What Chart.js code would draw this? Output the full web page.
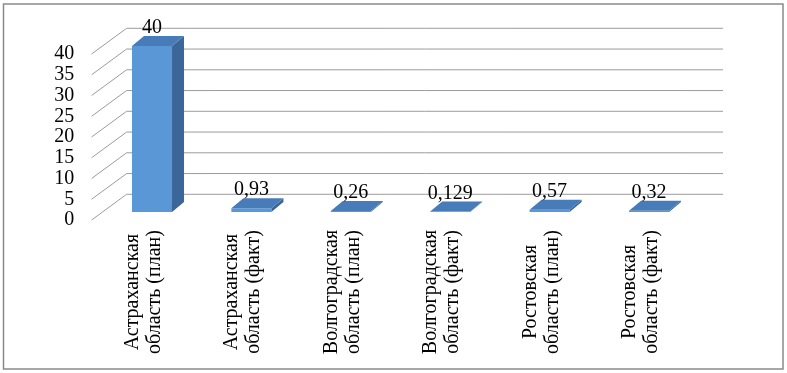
<!DOCTYPE html>
<html>
<head>
<meta charset="utf-8">
<script src="https://cdn.jsdelivr.net/npm/chart.js@4"></script>
<style>
html,body{margin:0;padding:0;background:#fff;}
canvas{display:block;}
</style>
</head>
<body>
<canvas id="c" width="787" height="373"></canvas>
<script>
// ---- data ----
const categoryLine1 = ['Астраханская','Астраханская','Волгоградская','Волгоградская','Ростовская','Ростовская'];
const categoryLine2 = ['область (план)','область (факт)','область (план)','область (факт)','область (план)','область (факт)'];
const values = [40, 0.93, 0.26, 0.129, 0.57, 0.32];
const yMin = 0, yMax = 40, yStep = 5;

const FONT = '"Liberation Serif", "Times New Roman", serif';
const DX = 12, DY = -10;            // bar depth
const BACK_DX = 24.3, BACK_DY = -17.7; // back wall offset from bar plane
const FRONT_DX = -10.7, FRONT_DY = 8;  // front axis plane offset from bar plane

const fmt = v => String(v).replace('.', ',');

const deco = {
  id: 'deco',
  beforeDraw(chart) {
    const ctx = chart.ctx;
    ctx.save();
    ctx.fillStyle = '#fff';
    ctx.fillRect(0, 0, chart.width, chart.height);
    ctx.strokeStyle = '#8a8a8a';
    ctx.lineWidth = 1.5;
    ctx.strokeRect(3.5, 4, 779.5, 365);
    ctx.restore();
  },
  beforeDatasetsDraw(chart) {
    const ctx = chart.ctx, ys = chart.scales.y, xs = chart.scales.x;
    ctx.save();
    ctx.strokeStyle = '#9c9c9c';
    ctx.lineWidth = 1;
    ys.ticks.forEach(t => {
      const py = ys.getPixelForValue(t.value);
      ctx.beginPath();
      ctx.moveTo(xs.left + FRONT_DX, py + FRONT_DY);
      ctx.lineTo(xs.left + BACK_DX, py + BACK_DY);
      ctx.lineTo(xs.right + BACK_DX, py + BACK_DY);
      ctx.stroke();
    });
    ctx.restore();
  },
  afterDatasetsDraw(chart) {
    const ctx = chart.ctx;
    const meta = chart.getDatasetMeta(0);
    ctx.save();
    meta.data.forEach((bar, i) => {
      const p = bar.getProps(['x','y','base','width'], true);
      const l = p.x - p.width / 2, r = p.x + p.width / 2;
      const top = Math.min(p.y, p.base), bot = Math.max(p.y, p.base);
      // side face
      ctx.fillStyle = '#3a6699';
      ctx.beginPath();
      ctx.moveTo(r, top); ctx.lineTo(r + DX, top + DY);
      ctx.lineTo(r + DX, bot + DY); ctx.lineTo(r, bot); ctx.closePath();
      ctx.fill();
      // top face
      ctx.fillStyle = '#477cb9';
      ctx.beginPath();
      ctx.moveTo(l, top); ctx.lineTo(l + DX, top + DY);
      ctx.lineTo(r + DX, top + DY); ctx.lineTo(r, top); ctx.closePath();
      ctx.fill();
      // value label
      ctx.fillStyle = '#000';
      ctx.font = '20px ' + FONT;
      ctx.textAlign = 'center';
      ctx.textBaseline = 'middle';
      ctx.fillText(fmt(values[i]), p.x, top + DY - 8);
      // category label (rotated)
      const cy = 292;
      [[categoryLine1[i], -14], [categoryLine2[i], 8]].forEach(([txt, off]) => {
        ctx.save();
        ctx.translate(p.x + off, cy);
        ctx.rotate(-Math.PI / 2);
        ctx.textAlign = 'center';
        ctx.textBaseline = 'alphabetic';
        ctx.fillText(txt, 0, 0);
        ctx.restore();
      });
    });
    ctx.restore();
  }
};

new Chart(document.getElementById('c'), {
  type: 'bar',
  data: {
    labels: categoryLine1.map((a, i) => [a, categoryLine2[i]]),
    datasets: [{
      data: values,
      backgroundColor: '#5a97d6',
      borderWidth: 0,
      categoryPercentage: 1,
      barPercentage: 0.403
    }]
  },
  options: {
    responsive: false,
    animation: false,
    devicePixelRatio: 1,
    layout: { padding: { left: 0, top: 46, right: 88.3, bottom: 161 } },
    plugins: { legend: { display: false }, tooltip: { enabled: false } },
    scales: {
      x: { display: false },
      y: {
        min: yMin, max: yMax,
        grid: { display: false },
        border: { display: false },
        ticks: {
          stepSize: yStep,
          autoSkip: false,
          padding: 20,
          labelOffset: 8,
          color: '#000',
          font: { family: FONT, size: 20 }
        },
        afterFit(scale) { scale.width = 102.3; }
      }
    }
  },
  plugins: [deco]
});
</script>
</body>
</html>
